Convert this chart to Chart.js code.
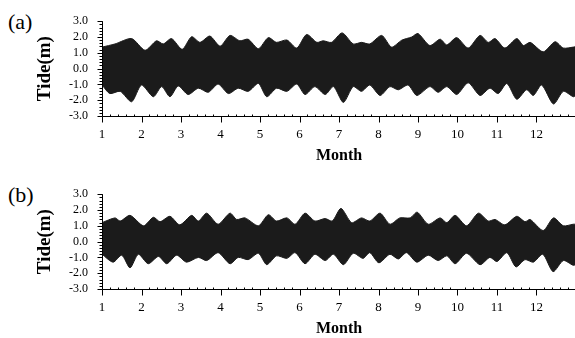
<!DOCTYPE html>
<html><head><meta charset="utf-8">
<script src="https://cdn.jsdelivr.net/npm/chart.js@4.4.0/dist/chart.umd.min.js"></script>
<style>
html,body{margin:0;padding:0;background:#fff;overflow:hidden;width:575px;height:338px;}
.panel{position:absolute;left:0;width:578px;height:170px;}
.lab{position:absolute;left:8px;font-family:"Liberation Serif",serif;font-size:22px;color:#000;line-height:1;}
</style></head><body>
<div class="lab" style="top:11px">(a)</div>
<div class="lab" style="top:184px">(b)</div>
<div class="panel" style="top:0px"><canvas id="ca" width="578" height="170"></canvas></div>
<div class="panel" style="top:173px"><canvas id="cb" width="578" height="170"></canvas></div>
<script>
// Panel (a): tide envelope, upper and lower (month, metres)
const aUpperMonth = [1.0,1.33,1.75,2.09,2.38,2.55,2.76,3.03,3.27,3.48,3.73,3.99,4.24,4.49,4.70,4.96,5.21,5.42,5.68,5.93,6.18,6.44,6.60,6.81,7.08,7.36,7.57,7.78,8.08,8.33,8.59,8.84,9.0,9.3,9.56,9.73,9.98,10.27,10.57,10.78,10.95,11.2,11.5,11.67,11.84,12.17,12.47,12.68,12.93,13.0];
const aUpperTide  = [1.36,1.56,1.90,1.16,1.76,1.56,1.90,1.22,2.02,1.66,2.06,1.42,2.10,1.76,1.86,1.26,1.96,1.66,1.81,1.30,2.16,1.66,1.76,1.66,2.26,1.56,1.66,1.56,2.10,1.36,1.80,2.00,2.22,1.46,1.86,1.50,1.96,1.30,2.10,1.66,1.90,1.30,1.90,1.46,1.66,1.06,1.70,1.30,1.36,1.40];
const aLowerMonth = [1.0,1.2,1.46,1.75,2.0,2.3,2.51,2.72,2.93,3.18,3.44,3.69,3.94,4.2,4.45,4.7,4.96,5.17,5.42,5.68,5.93,6.14,6.39,6.65,6.86,7.11,7.36,7.57,7.78,8.04,8.29,8.5,8.75,8.97,9.3,9.51,9.73,9.98,10.27,10.57,10.82,11.03,11.25,11.5,11.75,11.92,12.13,12.43,12.68,12.93,13.0];
const aLowerTide  = [-1.04,-1.58,-1.44,-2.10,-1.04,-1.78,-1.14,-1.78,-1.10,-1.64,-1.24,-1.50,-0.98,-1.58,-1.24,-1.44,-0.94,-1.78,-1.24,-1.44,-0.98,-1.64,-1.14,-1.64,-1.14,-2.14,-1.14,-1.44,-1.04,-1.70,-1.14,-1.34,-1.04,-1.70,-1.14,-1.50,-1.14,-1.64,-0.90,-1.70,-1.24,-1.58,-0.94,-1.94,-1.34,-1.70,-1.04,-2.24,-1.44,-1.78,-1.70];

// Panel (b)
const bUpperMonth = [1.0,1.33,1.46,1.71,2.05,2.3,2.47,2.72,2.97,3.27,3.44,3.65,3.94,4.24,4.41,4.62,4.96,5.21,5.42,5.68,5.89,6.14,6.39,6.65,6.83,7.05,7.32,7.57,7.78,8.04,8.29,8.54,8.8,8.98,9.26,9.56,9.73,9.94,10.23,10.53,10.78,10.95,11.2,11.5,11.71,11.84,12.17,12.43,12.68,12.93,13.0];
const bUpperTide  = [1.20,1.50,1.30,1.66,1.00,1.54,1.26,1.60,1.06,1.66,1.30,1.80,1.10,1.80,1.40,1.50,1.00,1.70,1.30,1.50,1.10,1.80,1.30,1.46,1.30,2.10,1.20,1.50,1.30,1.80,1.10,1.50,1.50,1.86,1.10,1.50,1.20,1.66,1.00,1.80,1.30,1.40,1.06,1.60,1.26,1.40,0.70,1.50,1.00,1.10,1.10];
const bLowerMonth = [1.0,1.28,1.5,1.71,1.92,2.17,2.43,2.64,2.89,3.14,3.44,3.65,3.94,4.24,4.45,4.7,4.96,5.17,5.42,5.68,5.89,6.14,6.39,6.65,6.86,7.11,7.36,7.61,7.78,8.01,8.29,8.5,8.71,8.97,9.26,9.51,9.73,9.94,10.23,10.57,10.82,11.0,11.25,11.48,11.71,11.92,12.16,12.42,12.68,12.93,13.0];
const bLowerTide  = [-0.80,-1.30,-0.86,-1.66,-0.80,-1.40,-0.94,-1.40,-0.86,-1.30,-1.00,-1.20,-0.70,-1.40,-1.00,-1.14,-0.74,-1.46,-0.90,-1.06,-0.70,-1.40,-0.80,-1.20,-0.80,-1.46,-0.74,-1.06,-0.70,-1.34,-0.80,-1.10,-0.70,-1.30,-0.86,-1.20,-0.90,-1.40,-0.74,-1.46,-1.00,-1.26,-0.70,-1.60,-1.14,-1.30,-0.80,-1.90,-1.20,-1.50,-1.45];

// Axis ticks
const monthTicks = [1,2,3,4,5,6,7,8,9,10,11,12];
const tideTicks = [-3,-2,-1,0,1,2,3];

const SERIF = '"Liberation Serif", "Times New Roman", serif';
const INK = '#1b1b1b';

function pts(xs, ys){ return xs.map((x,i)=>({x:x, y:ys[i]})); }

const axesPlugin = {
  id: 'axesPlugin',
  afterDatasetsDraw(chart){
    const ctx = chart.ctx, xs = chart.scales.x, ys = chart.scales.y, a = chart.chartArea;
    ctx.save();
    ctx.strokeStyle = '#000';
    ctx.lineWidth = 1;
    ctx.beginPath();
    const L = Math.round(a.left) + 0.5, B = Math.round(a.bottom) + 0.5;
    ctx.moveTo(L, a.top); ctx.lineTo(L, B);
    ctx.moveTo(L, B); ctx.lineTo(a.right, B);
    for (let v = -3; v <= 3.0001; v += 0.2) {
      const p = Math.round(ys.getPixelForValue(v)) + 0.5;
      const major = Math.abs(v - Math.round(v)) < 1e-6;
      ctx.moveTo(L, p); ctx.lineTo(L - (major ? 5 : 3), p);
    }
    for (let m = 1; m <= 13.0001; m += 0.2) {
      const p = Math.round(xs.getPixelForValue(m)) + 0.5;
      const major = Math.abs(m - Math.round(m)) < 1e-6;
      if (major) { ctx.moveTo(p, B); ctx.lineTo(p, B + 6); }
      else { ctx.moveTo(p, B); ctx.lineTo(p, B - 2); }
    }
    ctx.stroke();
    ctx.restore();
  }
};

function makeChart(id, up, lo){
  return new Chart(document.getElementById(id), {
    type: 'line',
    data: {
      datasets: [
        { data: up, borderColor: INK, backgroundColor: INK, borderWidth: 1, pointRadius: 0, tension: 0.25, fill: '+1' },
        { data: lo, borderColor: INK, backgroundColor: INK, borderWidth: 1, pointRadius: 0, tension: 0.25, fill: false }
      ]
    },
    options: {
      responsive: false,
      animation: false,
      events: [],
      layout: { padding: { top: 15, right: 2, left: 0, bottom: 0 } },
      plugins: { legend: { display: false }, tooltip: { enabled: false } },
      scales: {
        x: {
          type: 'linear', min: 1, max: 13,
          afterFit: s => { s.height = 54; },
          afterBuildTicks: s => { s.ticks = monthTicks.map(v => ({ value: v })); },
          grid: { display: false, drawTicks: false },
          border: { display: false },
          ticks: { autoSkip: false, maxRotation: 0, padding: 11, color: '#000',
                   font: { family: SERIF, size: 13 }, callback: v => String(v) },
          title: { display: true, text: 'Month', color: '#000',
                   font: { family: SERIF, size: 16, weight: 'bold' }, padding: { top: 0, bottom: 5 } }
        },
        y: {
          type: 'linear', min: -3, max: 3,
          afterFit: s => { s.width = 102; },
          afterBuildTicks: s => { s.ticks = tideTicks.map(v => ({ value: v })); },
          grid: { display: false, drawTicks: false },
          border: { display: false },
          ticks: { autoSkip: false, padding: 14, color: '#000', font: { family: SERIF, size: 12 },
                   callback: v => v.toFixed(1) },
          title: { display: true, text: 'Tide(m)', color: '#000',
                   font: { family: SERIF, size: 19, weight: 'bold' }, padding: { top: 34, bottom: 0 } }
        }
      }
    },
    plugins: [axesPlugin]
  });
}

makeChart('ca', pts(aUpperMonth, aUpperTide), pts(aLowerMonth, aLowerTide));
makeChart('cb', pts(bUpperMonth, bUpperTide), pts(bLowerMonth, bLowerTide));
</script>
</body></html>
